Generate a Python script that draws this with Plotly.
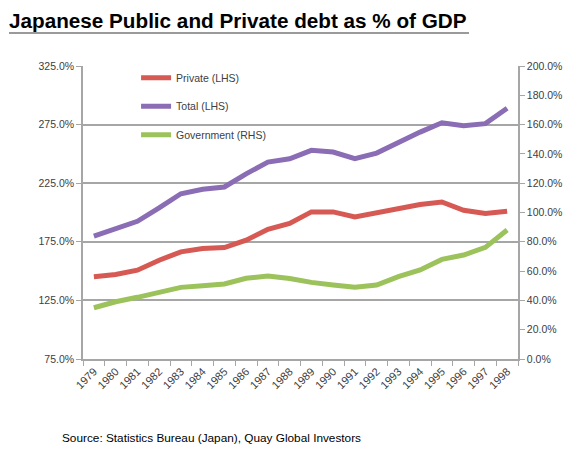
import plotly.graph_objects as go

years = [str(y) for y in range(1979, 1999)]
private = [145.1, 147.1, 150.8, 159.3, 166.4, 169.3, 170.1, 176.4, 185.7, 190.6,
           200.5, 200.5, 196.2, 199.7, 203.4, 206.8, 209.0, 201.9, 199.1, 201.1]
total = [179.8, 186.3, 192.5, 203.9, 216.0, 219.8, 221.8, 233.0, 243.0, 245.8,
         253.0, 251.6, 246.0, 250.7, 260.0, 268.6, 276.6, 274.0, 275.8, 289.0]
government = [35.0, 39.1, 42.1, 45.5, 48.9, 50.0, 51.2, 55.1, 56.7, 55.0,
              52.3, 50.5, 48.9, 50.5, 56.2, 60.8, 68.0, 71.0, 76.2, 88.1]

left_ticks = [75, 125, 175, 225, 275, 325]
right_ticks = list(range(0, 201, 20))

RED = "#D65A53"
PURPLE = "#8A6DB4"
GREEN = "#9CC25B"
AX = "#A6A6A6"
TXT = "#404040"
FONT = "Liberation Sans, Arial, sans-serif"

fig = go.Figure()
fig.add_trace(go.Scatter(x=years, y=private, name="Private (LHS)", mode="lines",
                         line=dict(color=RED, width=5), legendgroup="a"))
fig.add_trace(go.Scatter(x=years, y=total, name="Total (LHS)", mode="lines",
                         line=dict(color=PURPLE, width=5), legendgroup="b"))
fig.add_trace(go.Scatter(x=years, y=government, name="Government (RHS)", mode="lines",
                         line=dict(color=GREEN, width=5), legendgroup="c", yaxis="y2"))

fig.update_layout(
    width=580, height=454,
    margin=dict(l=83, r=62, t=66, b=95),
    paper_bgcolor="white", plot_bgcolor="white",
    font=dict(family=FONT, size=10.5, color=TXT),
    title=dict(text="<b>Japanese Public and Private debt as % of GDP</b>",
               font=dict(family="Liberation Sans Narrow, Arial Narrow, Liberation Sans, Arial, sans-serif",
                         size=20.7, color="black"),
               x=9 / 580, xanchor="left", xref="container",
               y=1 - 21 / 454, yanchor="middle", yref="container"),
    xaxis=dict(type="category", range=[-0.5, len(years) - 0.5],
               tickson="boundaries", ticks="outside", ticklen=5, tickcolor=AX,
               tickangle=-45, showline=True, linecolor=AX, linewidth=1.5,
               showgrid=False, tickfont=dict(size=11, color=TXT)),
    yaxis=dict(range=[75, 325], tickmode="array", tickvals=left_ticks,
               ticktext=[f"{v:.1f}%" for v in left_ticks],
               ticks="outside", ticklen=5, tickcolor=AX,
               showline=True, linecolor=AX, linewidth=1.5,
               showgrid=True, gridcolor=AX, gridwidth=1.5, zeroline=False,
               tickfont=dict(size=10.5, color=TXT)),
    yaxis2=dict(range=[0, 200], overlaying="y", side="right", tickmode="array",
                tickvals=right_ticks, ticktext=[f"{v:.1f}%" for v in right_ticks],
                ticks="outside", ticklen=5, tickcolor=AX,
                showline=True, linecolor=AX, linewidth=1.5,
                showgrid=False, zeroline=False,
                tickfont=dict(size=10.5, color=TXT)),
    legend=dict(x=0.122, y=1.009, xanchor="left", yanchor="top",
                bgcolor="rgba(0,0,0,0)", tracegroupgap=9.5,
                font=dict(size=10.5, color=TXT), traceorder="grouped"),
    showlegend=True,
)

fig.add_shape(type="line", xref="paper", yref="paper",
              x0=(9 - 83) / 435, x1=(469 - 83) / 435,
              y0=(359 - 33) / 293, y1=(359 - 33) / 293,
              line=dict(color="#9A9A9A", width=2))

fig.add_annotation(text="Source: Statistics Bureau (Japan), Quay Global Investors",
                   xref="paper", yref="paper", x=(60 - 83) / 435, y=(359 - 438) / 293,
                   xanchor="left", yanchor="middle", showarrow=False,
                   font=dict(size=11.8, color="black", family=FONT))

fig.write_html("out.html")
